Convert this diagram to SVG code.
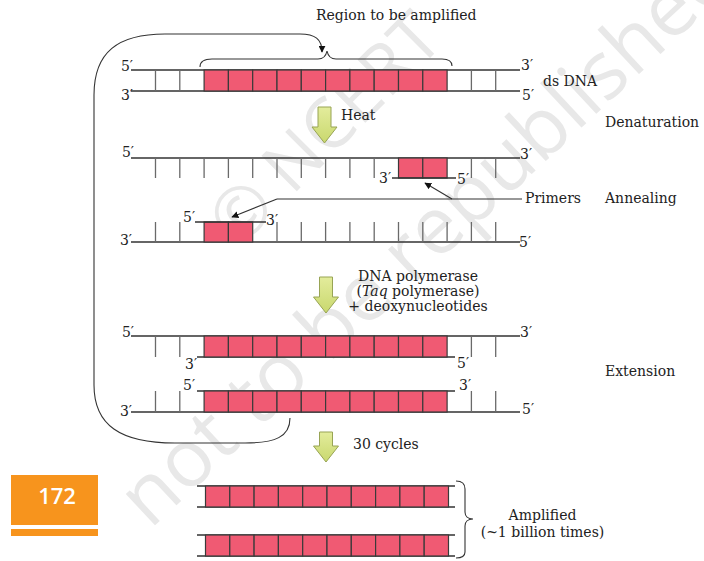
<svg xmlns="http://www.w3.org/2000/svg" xmlns:xlink="http://www.w3.org/1999/xlink" width="704" height="561" viewBox="0 0 704 561">
<style>
.t{font-family:"DejaVu Serif","Liberation Serif",serif;font-size:14px;fill:#222}
.ln{stroke:#333;stroke-width:1.5;fill:none}
.tk{stroke:#6a6a6a;stroke-width:1.3;fill:none}
.cell{fill:#f05a73;stroke:#3a3a3a;stroke-width:1.2}
.con{stroke:#333;stroke-width:1.1;fill:none}
.bar{fill:url(#ag);stroke:#98a455;stroke-width:1}
.wm{font-family:"Open Sans","DejaVu Sans",sans-serif;fill:#e8e8e8}
</style>
<defs>
<linearGradient id="ag" x1="0" y1="0" x2="0" y2="1">
<stop offset="0" stop-color="#e3ec9c"/>
<stop offset="1" stop-color="#c9d86e"/>
</linearGradient>
<marker id="ah" viewBox="0 0 10 10" refX="9" refY="5" markerWidth="7" markerHeight="7" orient="auto" markerUnits="userSpaceOnUse">
<path d="M0,0 L10,5 L0,10 z" fill="#111"/>
</marker>
<g id="cells10">
<rect class="cell" x="0" y="0" width="24.3" height="21"/>
<rect class="cell" x="24.3" y="0" width="24.3" height="21"/>
<rect class="cell" x="48.6" y="0" width="24.3" height="21"/>
<rect class="cell" x="72.9" y="0" width="24.3" height="21"/>
<rect class="cell" x="97.2" y="0" width="24.3" height="21"/>
<rect class="cell" x="121.5" y="0" width="24.3" height="21"/>
<rect class="cell" x="145.8" y="0" width="24.3" height="21"/>
<rect class="cell" x="170.1" y="0" width="24.3" height="21"/>
<rect class="cell" x="194.4" y="0" width="24.3" height="21"/>
<rect class="cell" x="218.7" y="0" width="24.3" height="21"/>
</g>
</defs>
<rect width="704" height="561" fill="#fff"/>

<!-- watermark -->
<g id="watermark">
<text class="wm" font-size="70" transform="translate(238,250) rotate(-45)">© NCERT</text>
<text class="wm" font-size="80" transform="translate(150,530) rotate(-43)">not to be republished</text>
</g>

<!-- title -->
<text class="t" x="316" y="20">Region to be amplified</text>

<!-- ds DNA -->
<g id="dsDNA">
<path class="ln" d="M131,70 H520 M131,91 H520"/>
<use xlink:href="#cells10" x="204.1" y="70"/>
<path class="tk" d="M155.5,70 V91 M179.8,70 V91 M471.4,70 V91 M495.7,70 V91"/>
<text class="t" x="133" y="71" text-anchor="end">5′</text>
<text class="t" x="133" y="100" text-anchor="end">3′</text>
<text class="t" x="521" y="70">3′</text>
<text class="t" x="522" y="100">5′</text>
<text class="t" x="543" y="86">ds DNA</text>
<path class="con" d="M200,67 C200,61 204,59 212,59 L318,59 C323,59 326,56 327,51 C328,56 331,59 336,59 L442,59 C449,59 452,62 452,66"/>
</g>

<!-- denatured top strand with primer -->
<g id="strand-top">
<path class="ln" d="M131,158 H520"/>
<path class="tk" d="M155.5,158 V178 M179.8,158 V178 M204.1,158 V178 M228.4,158 V178 M252.7,158 V178 M277,158 V178 M301.3,158 V178 M325.6,158 V178 M349.9,158 V178 M374.2,158 V178 M471.4,158 V178 M495.7,158 V178"/>
<text class="t" x="134" y="157" text-anchor="end">5′</text>
<text class="t" x="520" y="159">3′</text>
</g>
<g id="primer-1">
<rect class="cell" x="398.5" y="158" width="24.3" height="20"/>
<rect class="cell" x="422.8" y="158" width="24.3" height="20"/>
<path class="ln" d="M392,178 H456"/>
<text class="t" x="379" y="183">3′</text>
<text class="t" x="457" y="184">5′</text>
</g>

<!-- denatured bottom strand with primer -->
<g id="strand-bottom">
<path class="ln" d="M131,242 H520"/>
<path class="tk" d="M155.5,222 V242 M179.8,222 V242 M277,222 V242 M301.3,222 V242 M325.6,222 V242 M349.9,222 V242 M374.2,222 V242 M398.5,222 V242 M422.8,222 V242 M447.1,222 V242 M471.4,222 V242 M495.7,222 V242"/>
<text class="t" x="132" y="245" text-anchor="end">3′</text>
<text class="t" x="519" y="247">5′</text>
</g>
<g id="primer-2">
<rect class="cell" x="204.1" y="222" width="24.3" height="20"/>
<rect class="cell" x="228.4" y="222" width="24.3" height="20"/>
<path class="ln" d="M195,222 H266"/>
<text class="t" x="183" y="222">5′</text>
<text class="t" x="266" y="225">3′</text>
</g>

<!-- extension -->
<g id="ext-top">
<path class="ln" d="M131,336 H520 M197,357 H455"/>
<use xlink:href="#cells10" x="204.1" y="336"/>
<path class="tk" d="M155.5,336 V357 M179.8,336 V357 M471.4,336 V357 M495.7,336 V357"/>
<text class="t" x="134" y="337" text-anchor="end">5′</text>
<text class="t" x="520" y="337">3′</text>
<text class="t" x="185" y="369">3′</text>
<text class="t" x="457" y="368">5′</text>
</g>
<g id="ext-bottom">
<path class="ln" d="M197,391 H455 M131,412 H520"/>
<use xlink:href="#cells10" x="204.1" y="391"/>
<path class="tk" d="M155.5,391 V412 M179.8,391 V412 M471.4,391 V412 M495.7,391 V412"/>
<text class="t" x="183" y="390">5′</text>
<text class="t" x="459" y="390">3′</text>
<text class="t" x="132" y="416" text-anchor="end">3′</text>
<text class="t" x="522" y="414">5′</text>
</g>

<!-- amplified -->
<g id="amplified">
<path class="ln" d="M197,486 H455 M197,507 H455 M197,535 H455 M197,556 H455"/>
<use xlink:href="#cells10" x="205.5" y="486"/>
<use xlink:href="#cells10" x="205.5" y="535"/>
<path class="con" d="M456,481 C462,481 465,483 465,489 L465,512 C465,516 468,519 473,519 C468,519 465,522 465,526 L465,552 C465,556 462,558 456,558"/>
<text class="t" x="542.5" y="520" text-anchor="middle">Amplified</text>
<text class="t" x="542.5" y="537" text-anchor="middle">(~1 billion times)</text>
</g>

<!-- step arrows -->
<g id="step-heat">
<polygon class="bar" points="318,107 331,107 331,127 337,127 324.5,143 312,127 318,127"/>
<text class="t" x="341" y="120">Heat</text>
</g>
<g id="step-poly">
<polygon class="bar" points="319.5,277 332.5,277 332.5,297 338.5,297 326,313 313.5,297 319.5,297"/>
<text class="t" x="418" y="281" text-anchor="middle">DNA polymerase</text>
<text class="t" x="418" y="296" text-anchor="middle">(<tspan font-style="italic">Taq</tspan> polymerase)</text>
<text class="t" x="418" y="311" text-anchor="middle">+ deoxynucleotides</text>
</g>
<g id="step-cycles">
<polygon class="bar" points="319.5,432 332.5,432 332.5,446 338.5,446 326,462 313.5,446 319.5,446"/>
<text class="t" x="353" y="449">30 cycles</text>
</g>

<!-- stage labels -->
<g id="stages">
<text class="t" x="605" y="127">Denaturation</text>
<text class="t" x="605" y="203">Annealing</text>
<text class="t" x="605" y="376">Extension</text>
<text class="t" x="525" y="203">Primers</text>
</g>

<!-- connectors -->
<g id="connectors">
<path class="con" marker-end="url(#ah)" d="M290,418 C290,437 275,443 245,443 L175,443 C120,443 94,425 94,385 L94,95 C94,52 118,34 165,34 L300,34 C315,34 322,39 322,52"/>
<path class="con" d="M522,199 H277"/>
<path class="con" marker-end="url(#ah)" d="M277,199 L232,217"/>
<path class="con" marker-end="url(#ah)" d="M452,199 L425,183"/>
</g>

<!-- page number -->
<g id="page">
<rect x="11" y="475" width="87" height="50" fill="#f7941d"/>
<rect x="11" y="529" width="87" height="7" fill="#f7941d"/>
<text x="57" y="504" text-anchor="middle" font-family="'Open Sans','DejaVu Sans',sans-serif" font-weight="600" font-size="22" fill="#fff">172</text>
</g>
</svg>
